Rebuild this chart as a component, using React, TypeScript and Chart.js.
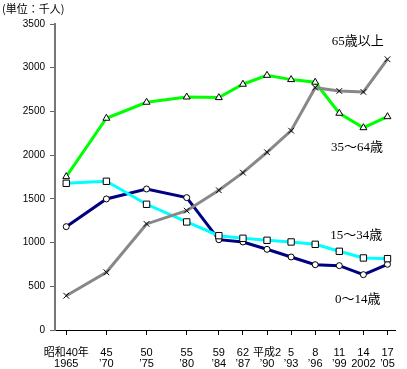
import React, { useEffect, useRef } from "react";
import { Chart, registerables } from "chart.js";

Chart.register(...registerables);

const years = [1965, 1970, 1975, 1980, 1984, 1987, 1990, 1993, 1996, 1999, 2002, 2005];
const eraLabels = ["昭和40年", "45", "50", "55", "59", "62", "平成2", "5", "8", "11", "14", "17"];
const westernLabels = ["1965", "’70", "’75", "’80", "’84", "’87", "’90", "’93", "’96", "’99", "2002", "’05"];

const age65plus = [392, 660, 1213, 1365, 1598, 1800, 2033, 2280, 2772, 2734, 2723, 3097];
const age35to64 = [1754, 2422, 2605, 2665, 2658, 2811, 2913, 2864, 2834, 2479, 2314, 2440];
const age15to34 = [1678, 1701, 1438, 1236, 1079, 1049, 1026, 1007, 980, 900, 824, 816];
const age0to14 = [1182, 1499, 1613, 1514, 1033, 1007, 923, 835, 747, 736, 633, 752];

const seriesNames = ["65歳以上", "35～64歳", "15～34歳", "0～14歳"];
// label anchor positions in data units (year, value)
const labelYears = [2001.3, 2001.2, 2001.1, 2001.3];
const labelValues = [3294, 2082, 1075, 343];

const unitTitle = "(単位：千人)";

const toPoints = (vals: number[]) => vals.map((v, i) => ({ x: years[i], y: v }));

const annotationPlugin = {
  id: "annotations",
  afterDatasetsDraw(chart: any) {
    const { ctx, scales } = chart;
    ctx.save();
    ctx.fillStyle = "#000";
    ctx.textAlign = "center";
    ctx.textBaseline = "middle";
    ctx.font = "13px 'Liberation Serif', 'Noto Sans CJK JP'";
    seriesNames.forEach((name, i) => {
      const x = scales.x.getPixelForValue(labelYears[i]);
      const y = scales.y.getPixelForValue(labelValues[i]);
      ctx.fillText(name, x, y);
    });
    ctx.textAlign = "left";
    ctx.font = "11px 'Noto Sans CJK JP'";
    ctx.fillText(unitTitle, 2, 9);
    ctx.restore();
  },
};

export default function App() {
  const ref = useRef<HTMLCanvasElement | null>(null);
  useEffect(() => {
    if (!ref.current) return;
    const mk = (
      data: number[],
      color: string,
      pointStyle: string,
      radius: number
    ) => ({
      data: toPoints(data),
      borderColor: color,
      borderWidth: 3,
      pointStyle,
      pointRadius: radius,
      pointBackgroundColor: "#fff",
      pointBorderColor: "#000",
      pointBorderWidth: 1,
      tension: 0,
    });
    const chart = new Chart(ref.current, {
      type: "line",
      data: {
        datasets: [
          { ...mk(age65plus, "#888888", "crossRot", 4), label: seriesNames[0] },
          { ...mk(age15to34, "#00ffff", "rect", 4.5), label: seriesNames[2] },
          { ...mk(age35to64, "#00ff00", "triangle", 4), label: seriesNames[1] },
          { ...mk(age0to14, "#000080", "circle", 3), label: seriesNames[3] },
        ] as any,
      },
      options: {
        animation: false,
        responsive: false,
        layout: { padding: { top: 24, right: 7, left: 0, bottom: 0 } },
        plugins: {
          legend: { display: false },
          tooltip: { enabled: false },
          title: { display: false },
        },
        scales: {
          x: {
            type: "linear",
            min: 1963.6,
            max: 2006,
            afterBuildTicks: (s: any) => {
              s.ticks = years.map((v) => ({ value: v }));
            },
            afterFit: (s: any) => {
              s.height = 39;
            },
            ticks: {
              autoSkip: false,
              maxRotation: 0,
              minRotation: 0,
              padding: 12,
              color: "#000",
              font: { size: 11, family: "'Liberation Sans', 'Noto Sans CJK JP'", lineHeight: 1.0 },
              callback: (value: any) => {
                const i = years.indexOf(Number(value));
                return i >= 0 ? [eraLabels[i], westernLabels[i]] : "";
              },
            },
            grid: {
              drawOnChartArea: false,
              drawTicks: true,
              tickLength: 5,
              color: "#000",
            },
            border: { display: true, color: "#000", width: 1 },
          },
          y: {
            min: 0,
            max: 3500,
            afterFit: (s: any) => {
              s.width = 55;
            },
            ticks: {
              stepSize: 500,
              padding: 5,
              color: "#000",
              font: { size: 10, family: "'Liberation Sans', 'Noto Sans CJK JP'" },
              callback: (value: any) => String(value),
            },
            grid: {
              drawOnChartArea: false,
              drawTicks: true,
              tickLength: 5,
              color: "#666",
            },
            border: { display: true, color: "#777", width: 2 },
          },
        },
      } as any,
      plugins: [annotationPlugin],
    });
    return () => chart.destroy();
  }, []);
  return (
    <div style={{ position: "absolute", left: 0, top: 0, width: 407, height: 369, background: "#fff" }}>
      <canvas ref={ref} width={407} height={369} />
    </div>
  );
}
